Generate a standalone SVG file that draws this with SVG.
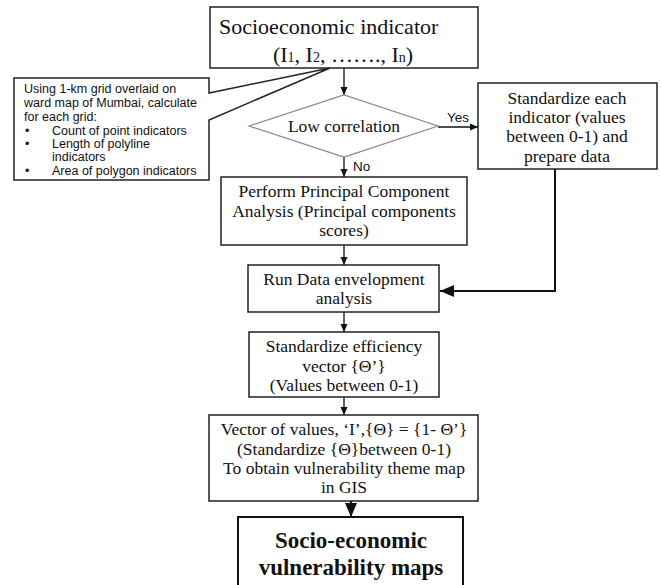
<svg xmlns="http://www.w3.org/2000/svg" width="661" height="585" viewBox="0 0 661 585">
<defs>
<style>
.box{fill:#fff;stroke:#222;stroke-width:1.5}
.t{font-family:"Liberation Serif","Times New Roman",serif;font-size:17.5px;fill:#111;text-anchor:middle}
.a{font-family:"Liberation Sans",Arial,sans-serif;font-size:12.5px;fill:#111}
.c{stroke:#111;stroke-width:1.3;fill:none}
.cb{stroke:#111;stroke-width:2;fill:none}
</style>
<marker id="ah" markerUnits="userSpaceOnUse" markerWidth="8" markerHeight="8" refX="8" refY="4" orient="auto"><path d="M0,0.5 L8,4 L0,7.5 z" fill="#111"/></marker>
<marker id="ahb" markerUnits="userSpaceOnUse" markerWidth="14" markerHeight="12" refX="14" refY="6" orient="auto"><path d="M0,0 L14,6 L0,12 z" fill="#111"/></marker>
</defs>
<rect width="661" height="585" fill="#fff"/>

<g id="connectors">
<line class="c" x1="344" y1="68" x2="344" y2="95" marker-end="url(#ah)"/>
<line class="c" x1="438" y1="127" x2="478" y2="127" marker-end="url(#ah)"/>
<line class="c" x1="344" y1="157" x2="344" y2="177" marker-end="url(#ah)"/>
<line class="c" x1="344" y1="245" x2="344" y2="265" marker-end="url(#ah)"/>
<polyline class="cb" points="555,169 555,291 440,291" marker-end="url(#ahb)"/>
<line class="c" x1="344" y1="312" x2="344" y2="332" marker-end="url(#ah)"/>
<line class="c" x1="344" y1="397" x2="344" y2="415" marker-end="url(#ah)"/>
<line class="cb" x1="351" y1="501" x2="351" y2="517" marker-end="url(#ahb)"/>
<text class="a" x="447" y="122" style="font-size:13.5px">Yes</text>
<text class="a" x="353" y="171" style="font-size:13.5px">No</text>
</g>

<g id="socioeconomic-indicator">
<rect class="box" x="210" y="7" width="268" height="61"/>
<text class="t" x="219" y="34" style="font-size:22px;text-anchor:start">Socioeconomic indicator</text>
<text class="t" x="343" y="62" style="font-size:22px">(I<tspan style="font-size:14px">1</tspan>, I<tspan style="font-size:14px">2</tspan>, ……., I<tspan style="font-size:14px">n</tspan>)</text>
</g>

<g id="callout">
<path d="M14,78 H209 V93 L330,68 L209,120 V180 H14 Z" fill="#fff" stroke="#222" stroke-width="1.5" stroke-linejoin="miter"/>
<text class="a" x="24" y="93">Using 1-km grid overlaid on</text>
<text class="a" x="24" y="107">ward map of Mumbai, calculate</text>
<text class="a" x="24" y="121">for each grid:</text>
<text class="a" x="25" y="135">•</text><text class="a" x="52" y="135">Count of point indicators</text>
<text class="a" x="25" y="148">•</text><text class="a" x="52" y="148">Length of polyline</text>
<text class="a" x="52" y="161">indicators</text>
<text class="a" x="25" y="175">•</text><text class="a" x="52" y="175">Area of polygon indicators</text>
</g>

<g id="low-correlation">
<polygon points="249,126 344,95 438,126 344,157" fill="#fff" stroke="#888" stroke-width="1.2"/>
<text class="t" x="344" y="132">Low correlation</text>
</g>

<g id="standardize-indicator">
<rect class="box" x="478" y="83" width="179" height="86"/>
<text class="t" x="567" y="104">Standardize each</text>
<text class="t" x="567" y="123">indicator (values</text>
<text class="t" x="567" y="142">between 0-1) and</text>
<text class="t" x="567" y="162">prepare data</text>
</g>

<g id="pca">
<rect class="box" x="221" y="177" width="246" height="68"/>
<text class="t" x="344" y="197">Perform Principal Component</text>
<text class="t" x="344" y="217">Analysis (Principal components</text>
<text class="t" x="344" y="236">scores)</text>
</g>

<g id="dea">
<rect class="box" x="248" y="265" width="191" height="47"/>
<text class="t" x="344" y="285">Run Data envelopment</text>
<text class="t" x="344" y="304">analysis</text>
</g>

<g id="standardize-efficiency">
<rect class="box" x="249" y="332" width="190" height="65"/>
<text class="t" x="344" y="352">Standardize efficiency</text>
<text class="t" x="344" y="372">vector {Θ’}</text>
<text class="t" x="344" y="391">(Values between 0-1)</text>
</g>

<g id="vector-values">
<rect class="box" x="209" y="415" width="269" height="86"/>
<text class="t" x="344" y="435">Vector of values, ‘I’,{Θ} = {1- Θ’}</text>
<text class="t" x="344" y="455">(Standardize {Θ}between 0-1)</text>
<text class="t" x="344" y="474">To obtain vulnerability theme map</text>
<text class="t" x="344" y="493">in GIS</text>
</g>

<g id="vulnerability-maps">
<rect x="238" y="517" width="225" height="90" fill="#fff" stroke="#111" stroke-width="2"/>
<text class="t" x="351" y="548" style="font-size:23px;font-weight:bold">Socio-economic</text>
<text class="t" x="351" y="575" style="font-size:23px;font-weight:bold">vulnerability maps</text>
</g>
</svg>
